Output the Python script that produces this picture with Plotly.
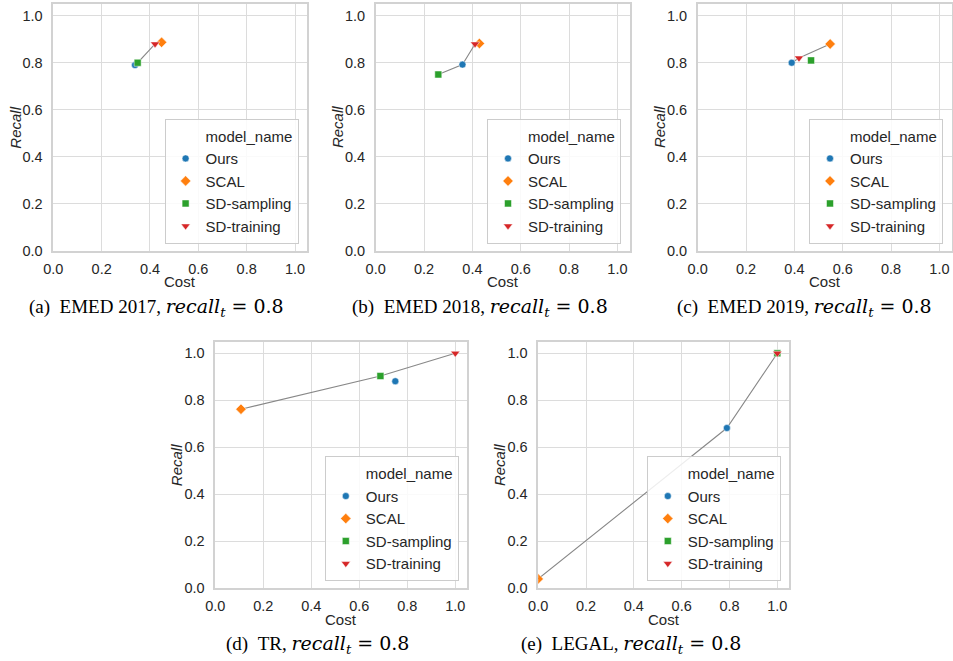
import plotly.graph_objects as go

# ---------------- data ----------------
models = ["Ours", "SCAL", "SD-sampling", "SD-training"]
colors = ["#1f77b4", "#ff7f0e", "#2ca02c", "#d62728"]
symbols = ["circle", "diamond", "square", "triangle-down"]
marker_sizes = [7, 8, 7, 8]

dataset_names = ["EMED 2017", "EMED 2018", "EMED 2019", "TR", "LEGAL"]
panel_letters = ["a", "b", "c", "d", "e"]

cost_emed2017 = [0.338, 0.448, 0.349, 0.421]
recall_emed2017 = [0.79, 0.887, 0.80, 0.88]
cost_emed2018 = [0.359, 0.429, 0.259, 0.411]
recall_emed2018 = [0.792, 0.882, 0.75, 0.88]
cost_emed2019 = [0.389, 0.548, 0.469, 0.419]
recall_emed2019 = [0.80, 0.88, 0.81, 0.82]
cost_tr = [0.75, 0.107, 0.688, 1.0]
recall_tr = [0.881, 0.762, 0.903, 1.0]
cost_legal = [0.789, 0.0, 1.0, 1.0]
recall_legal = [0.682, 0.04, 1.0, 1.0]

frontier_emed2017 = ["Ours", "SD-sampling", "SD-training", "SCAL"]
frontier_emed2018 = ["SD-sampling", "Ours", "SD-training", "SCAL"]
frontier_emed2019 = ["Ours", "SD-training", "SCAL"]
frontier_tr = ["SCAL", "SD-sampling", "SD-training"]
frontier_legal = ["SCAL", "Ours", "SD-sampling"]

costs = [cost_emed2017, cost_emed2018, cost_emed2019, cost_tr, cost_legal]
recalls = [recall_emed2017, recall_emed2018, recall_emed2019, recall_tr, recall_legal]
frontiers = [frontier_emed2017, frontier_emed2018, frontier_emed2019, frontier_tr, frontier_legal]

tick_vals = [0.0, 0.2, 0.4, 0.6, 0.8, 1.0]
tick_text = ["0.0", "0.2", "0.4", "0.6", "0.8", "1.0"]
AXIS_MAX = 1.05

# ---------------- layout geometry (pixels) ----------------
W, H = 953, 661
# (left, right, top, bottom) of each plot area
boxes = [
    (53.3, 307.1, 4.0, 250.7),
    (375.7, 629.5, 4.0, 250.7),
    (697.7, 951.5, 4.0, 250.7),
    (215.3, 467.3, 341.5, 588.3),
    (538.2, 789.3, 341.5, 588.3),
]
caption_pos = [(156, 307), (480, 307), (804, 307), (317, 644), (631, 644)]

def px(x):
    return x / W

def py(y):
    return 1 - y / H

SANS = "Liberation Sans, Arial, sans-serif"
SERIF = "Liberation Serif, Times New Roman, serif"
TXT = "#262626"

fig = go.Figure()
annotations = []
layout_extra = {}

for i in range(5):
    ax = "" if i == 0 else str(i + 1)
    xref, yref = "x" + ax, "y" + ax
    leg = "legend" + ax
    cost, rec, front = costs[i], recalls[i], frontiers[i]

    # frontier line
    pts = sorted([(cost[models.index(m)], rec[models.index(m)]) for m in front])
    fig.add_trace(go.Scatter(
        x=[p[0] for p in pts], y=[p[1] for p in pts], mode="lines",
        line=dict(color="#888888", width=1.1), showlegend=False,
        xaxis=xref, yaxis=yref, hoverinfo="skip"))

    # legend title as invisible entry
    fig.add_trace(go.Scatter(
        x=[None], y=[None], mode="markers", name="model_name",
        marker=dict(color="rgba(0,0,0,0)", size=1),
        xaxis=xref, yaxis=yref, legend=leg, showlegend=True))

    for k, m in enumerate(models):
        fig.add_trace(go.Scatter(
            x=[cost[k]], y=[rec[k]], mode="markers", name=m,
            marker=dict(color=colors[k], symbol=symbols[k], size=marker_sizes[k],
                        line=dict(color="white", width=0.5)),
            xaxis=xref, yaxis=yref, legend=leg, showlegend=True))

    l, r, t, b = boxes[i]
    axis_common = dict(
        range=[0, AXIS_MAX], tickvals=tick_vals, ticktext=tick_text,
        showgrid=True, gridcolor="#dcdcdc", gridwidth=1,
        zeroline=False, showline=True, linecolor="#d2d2d2", linewidth=1.5,
        mirror=True, ticks="", tickfont=dict(family=SANS, size=14.5, color=TXT),
        fixedrange=True, automargin=False, ticklabeloverflow="allow",
    )
    layout_extra["xaxis" + ax] = dict(axis_common, domain=[px(l), px(r)], anchor=yref,
                                      ticklabelstandoff=4)
    layout_extra["yaxis" + ax] = dict(axis_common, domain=[py(b), py(t)], anchor=xref,
                                      ticklabelstandoff=6)
    layout_extra[leg] = dict(
        x=px(r - 8.5), y=py(b - 7.0), xanchor="right", yanchor="bottom",
        bgcolor="rgba(255,255,255,0.85)", bordercolor="#cccccc", borderwidth=1,
        font=dict(family=SANS, size=15, color=TXT), itemclick=False,
        tracegroupgap=0)

    # axis titles
    annotations.append(dict(
        x=px((l + r) / 2), y=py(b + 31), xref="paper", yref="paper",
        text="Cost", showarrow=False, xanchor="center", yanchor="middle",
        font=dict(family=SANS, size=15, color=TXT)))
    annotations.append(dict(
        x=px(l - 38), y=py((t + b) / 2), xref="paper", yref="paper",
        text="<i>Recall</i>", showarrow=False, textangle=-90,
        xanchor="center", yanchor="middle",
        font=dict(family=SANS, size=15, color=TXT)))
    # caption
    cx, cy = caption_pos[i]
    annotations.append(dict(
        x=px(cx), y=py(cy), xref="paper", yref="paper",
        text="(" + panel_letters[i] + ")\u00a0\u00a0" + dataset_names[i] + ", "
             + "<span style='font-family:DejaVu Serif'><i>recall<sub>t</sub></i>"
             + "\u00a0=\u00a00.8</span>",
        showarrow=False, xanchor="center", yanchor="middle",
        font=dict(family=SERIF, size=19, color="black")))

fig.update_layout(
    width=W, height=H,
    margin=dict(l=0, r=0, t=0, b=0, pad=0, autoexpand=False),
    paper_bgcolor="white", plot_bgcolor="white", hovermode=False,
    showlegend=True, annotations=annotations, **layout_extra)

# place the fixed-size figure flush with the page corner (no body margin)
fig.write_html("out.html",
               config={"displayModeBar": False},
               post_script="document.body.style.margin='0px';"
                           "document.body.style.overflow='hidden';")
